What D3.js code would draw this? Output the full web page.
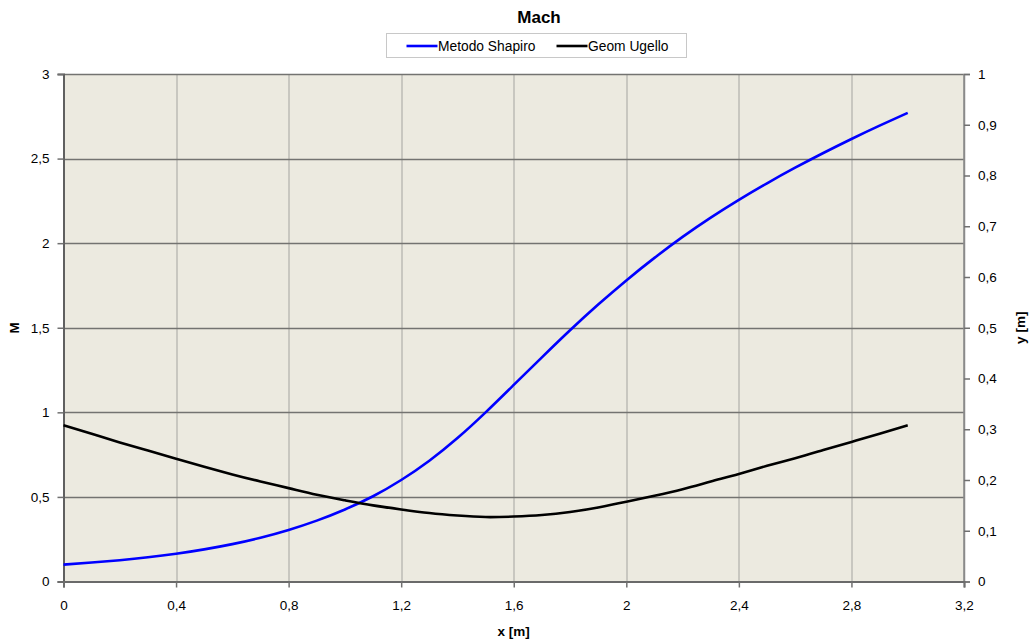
<!DOCTYPE html>
<html>
<head>
<meta charset="utf-8">
<title>Mach</title>
<script src="https://d3js.org/d3.v7.min.js"></script>
<style>
  body { margin: 0; background: #fff; }
  svg { font-family: "Liberation Sans", Arial, sans-serif; }
  .tick text { font-size: 13px; fill: #000; }
</style>
</head>
<body>
<div id="chart"></div>
<script>
// data
var xVals = [0, 0.1, 0.2, 0.3, 0.4, 0.5, 0.6, 0.7, 0.8, 0.9, 1.0, 1.1, 1.2, 1.3, 1.4, 1.5,
             1.6, 1.7, 1.8, 1.9, 2.0, 2.1, 2.2, 2.3, 2.4, 2.5, 2.6, 2.7, 2.8, 2.9, 3.0];
var machShapiro = [0.100, 0.112, 0.126, 0.143, 0.164, 0.190, 0.221, 0.259, 0.305, 0.360, 0.426,
                   0.504, 0.600, 0.714, 0.848, 1.000, 1.162, 1.325, 1.485, 1.637, 1.780, 1.913,
                   2.037, 2.151, 2.256, 2.354, 2.446, 2.533, 2.616, 2.695, 2.770];
var geomUgello = [0.308, 0.291, 0.274, 0.258, 0.242, 0.226, 0.211, 0.197, 0.184, 0.171, 0.160,
                  0.150, 0.142, 0.135, 0.130, 0.127, 0.128, 0.131, 0.137, 0.146, 0.157, 0.169,
                  0.182, 0.197, 0.212, 0.228, 0.243, 0.259, 0.275, 0.291, 0.308];
var xTicks = [0, 0.4, 0.8, 1.2, 1.6, 2, 2.4, 2.8, 3.2];
var mTicks = [0, 0.5, 1, 1.5, 2, 2.5, 3];
var yTicks = [0, 0.1, 0.2, 0.3, 0.4, 0.5, 0.6, 0.7, 0.8, 0.9, 1];
var seriesNames = ["Metodo Shapiro", "Geom Ugello"];
var seriesColors = ["#0000ff", "#000000"];

var W = 1035, H = 642;
var margin = { top: 74, right: 71, bottom: 60.5, left: 63.5 };
var width = W - margin.left - margin.right,
    height = H - margin.top - margin.bottom;

var svg = d3.select("#chart").append("svg")
    .attr("width", W)
    .attr("height", H);

var g = svg.append("g")
    .attr("transform", "translate(" + margin.left + "," + margin.top + ")");

var x = d3.scaleLinear().domain([0, 3.2]).range([0, width]);
var yL = d3.scaleLinear().domain([0, 3]).range([height, 0]);
var yR = d3.scaleLinear().domain([0, 1]).range([height, 0]);

var fmt = function (d) { return String(d).replace(".", ","); };

// plot area background
g.append("rect")
    .attr("width", width)
    .attr("height", height)
    .attr("fill", "#eceae0");

// vertical gridlines
g.selectAll(".vgrid")
    .data(xTicks.slice(1, -1)).enter()
    .append("line")
    .attr("x1", function (d) { return Math.round(x(d)) + 0.5; })
    .attr("x2", function (d) { return Math.round(x(d)) + 0.5; })
    .attr("y1", 0).attr("y2", height)
    .attr("stroke", "#a4a4a0").attr("stroke-width", 1);

// horizontal gridlines
g.selectAll(".hgrid")
    .data(mTicks.slice(1)).enter()
    .append("line")
    .attr("x1", 0).attr("x2", width)
    .attr("y1", function (d) { return Math.round(yL(d)) + 0.5; })
    .attr("y2", function (d) { return Math.round(yL(d)) + 0.5; })
    .attr("stroke", "#737371").attr("stroke-width", 1.5);

// right border
g.append("line")
    .attr("x1", width).attr("x2", width)
    .attr("y1", 0).attr("y2", height)
    .attr("stroke", "#8a8a8a").attr("stroke-width", 1.5);

// axes
var axL = g.append("g")
    .call(d3.axisLeft(yL).tickValues(mTicks).tickFormat(fmt).tickSize(6).tickPadding(8));
var axR = g.append("g")
    .attr("transform", "translate(" + width + ",0)")
    .call(d3.axisRight(yR).tickValues(yTicks).tickFormat(fmt).tickSize(6).tickPadding(8));
var axB = g.append("g")
    .attr("transform", "translate(0," + height + ")")
    .call(d3.axisBottom(x).tickValues(xTicks).tickFormat(fmt).tickSize(6).tickPadding(13));

axL.select(".domain").attr("stroke", "#606060").attr("stroke-width", 2);
axR.select(".domain").attr("stroke", "#8a8a8a").attr("stroke-width", 1.5);
axB.select(".domain").attr("stroke", "#6a6a6a").attr("stroke-width", 2);
[axL, axR, axB].forEach(function (a) {
    a.selectAll(".tick line").attr("stroke", "#707070").attr("stroke-width", 1.5);
    a.selectAll(".tick text").style("font-size", "13.5px");
});
axL.selectAll(".tick text").attr("x", -14);
axR.selectAll(".tick text").attr("x", 14);

// lines
var series = [machShapiro.map(function (v, i) { return [xVals[i], v, "L"]; }),
              geomUgello.map(function (v, i) { return [xVals[i], v, "R"]; })];

var line = d3.line()
    .x(function (d) { return x(d[0]); })
    .y(function (d) { return d[2] === "L" ? yL(d[1]) : yR(d[1]); })
    .curve(d3.curveNatural);

g.selectAll(".series")
    .data(series).enter()
    .append("path")
    .attr("d", line)
    .attr("fill", "none")
    .attr("stroke", function (d, i) { return seriesColors[i]; })
    .attr("stroke-width", 2.6)
    .attr("stroke-linejoin", "round");

// title
svg.append("text")
    .attr("x", 539).attr("y", 23)
    .attr("text-anchor", "middle")
    .style("font-size", "17px").style("font-weight", "bold")
    .text("Mach");

// legend
var leg = svg.append("g").attr("transform", "translate(386.5,33.5)");
leg.append("rect")
    .attr("width", 300).attr("height", 24)
    .attr("fill", "#fff").attr("stroke", "#c8c8c8");
var legX = [20, 170];
seriesNames.forEach(function (name, i) {
    leg.append("line")
        .attr("x1", legX[i]).attr("x2", legX[i] + 31)
        .attr("y1", 12.5).attr("y2", 12.5)
        .attr("stroke", seriesColors[i]).attr("stroke-width", 2.6);
    leg.append("text")
        .attr("x", legX[i] + 31.5).attr("y", 17)
        .style("font-size", "13.8px")
        .text(name);
});

// axis titles
svg.append("text")
    .attr("x", margin.left + x(1.6)).attr("y", 636)
    .attr("text-anchor", "middle")
    .style("font-size", "13.5px").style("font-weight", "bold")
    .text("x [m]");
svg.append("text")
    .attr("transform", "translate(19," + (margin.top + height / 2) + ") rotate(-90)")
    .attr("text-anchor", "middle")
    .style("font-size", "13.5px").style("font-weight", "bold")
    .text("M");
svg.append("text")
    .attr("transform", "translate(1025," + (margin.top + height / 2) + ") rotate(-90)")
    .attr("text-anchor", "middle")
    .style("font-size", "13.5px").style("font-weight", "bold")
    .text("y [m]");
</script>
</body>
</html>
